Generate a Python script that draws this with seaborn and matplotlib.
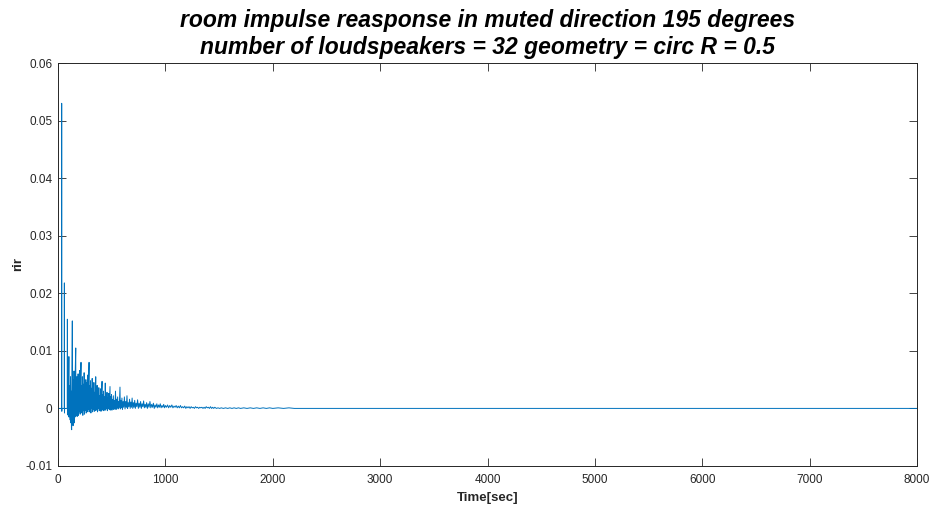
import numpy as np
import pandas as pd
import matplotlib
matplotlib.use("Agg")
import matplotlib.pyplot as plt
import seaborn as sns

# ---- data (sample index, rir value in units of 1e-4) ----
sample_idx = [
    0, 33, 34, 35, 36, 58, 59, 60, 61, 86, 87, 88, 89,
    92, 95, 98, 101, 102, 104, 107, 110, 113, 116, 119, 122, 125, 127, 129, 131, 133, 134,
    137, 140, 143, 146, 149, 152, 155, 158, 161, 165, 166, 169, 172, 175, 178, 181, 184, 187,
    190, 194, 198, 202, 206, 210, 214, 215, 219, 223, 227, 231, 235, 239, 243, 247, 251, 255,
    259, 263, 267, 271, 275, 279, 283, 289, 290, 294, 298, 302, 306, 310, 314, 318, 322, 326,
    330, 334, 338, 342, 346, 351, 352, 356, 360, 364, 368, 372, 376, 380, 384, 388, 392, 396,
    400, 405, 410, 411, 415, 419, 423, 427, 431, 435, 440, 444, 448, 452, 456, 460, 464, 468,
    472, 476, 480, 484, 486, 490, 494, 498, 502, 506, 510, 515, 520, 525, 530, 535, 540, 545,
    550, 555, 560, 565, 570, 577, 580, 585, 590, 595, 600, 606, 612, 618, 624, 630, 636, 642,
    648, 654, 660, 666, 672, 678, 684, 690, 696, 702, 708, 714, 720, 727, 734, 741, 748, 755,
    762, 769, 776, 783, 790, 797, 804, 811, 818, 825, 832, 840, 848, 856, 864, 872, 880, 888,
    896, 904, 912, 920, 928, 936, 944, 952, 960, 968, 976, 984, 992, 1000, 1010, 1020, 1030,
    1040, 1050, 1060, 1070, 1080, 1090, 1100, 1110, 1120, 1130, 1140, 1150, 1160, 1170,
    1180, 1190, 1200, 1210, 1220, 1230, 1240, 1250, 1260, 1270, 1280, 1290, 1300, 1310,
    1320, 1330, 1340, 1350, 1360, 1370, 1380, 1390, 1400, 1410, 1420, 1430, 1440, 1450,
    1460, 1475, 1490, 1505, 1520, 1540, 1560, 1580, 1600, 1620, 1640, 1660, 1680, 1700,
    1730, 1760, 1790, 1820, 1850, 1880, 1910, 1940, 1970, 2000, 2050, 2100, 2150, 2200,
    2300, 8000,
]
rir_e4 = [
    0, 0, 530, -5, 0, 0, 218, -8, 0, 0, 155, -10, 2,
    5, -12, 25, 90, -15, 30, -8, 40, -20, 55, -25, 30, -35, -37, 20, 60, 152, -20,
    45, -30, 50, -18, 65, -25, 40, -15, 70, 105, -12, 48, -10, 55, -14, 38, -8, 60,
    -12, 45, -6, 66, -10, 50, 80, -8, 40, -5, 55, -12, 42, -4, 62, -10, 38, -3,
    50, -8, 45, -6, 58, -2, 35, 80, -6, 40, -4, 48, -8, 35, 0, 52, -6, 30,
    -2, 45, -5, 28, -3, 55, -4, 32, -2, 40, -6, 26, 0, 36, -4, 22, -2, 34,
    -5, 25, 47, -3, 24, 0, 30, -4, 20, -1, 44, -3, 22, 0, 28, -4, 18, 0,
    26, -2, 16, 38, -3, 20, 0, 24, -3, 15, 1, 22, -2, 14, 0, 30, -2, 16,
    1, 20, -1, 12, 2, 37, -1, 14, 1, 18, -2, 12, 2, 20, -1, 12, 2, 22,
    0, 10, 3, 16, 0, 11, 2, 18, 0, 10, 2, 14, 0, 9, 3, 15, 0, 9,
    2, 12, 0, 8, 3, 13, 1, 7, 2, 10, 0, 8, 2, 12, 1, 7, 2, 9,
    0, 6, 2, 8, 1, 6, 2, 8, 1, 5, 2, 7, 1, 5, 2, 6, 1,
    5, 2, 6, 1, 4, 2, 5, 1, 4, 1, 5, 1, 3, 1,
    4, 0, 3, 1, 3, 0, 3, 1, 2, 0, 3, 1, 2, 0,
    2, 1, 2, 0, 2, 0, 3, 1, 2, 0, 3, 0, 2, 0,
    2, 0, 1, 0, 1, 0, 1, 0, 1, 0, 1, 0, 1, 0,
    1, 0, 1, 0, 1, 0, 1, 0, 1, 0, 1, 0, 1, 0,
    0, 0,
]

x_ticks = [0, 1000, 2000, 3000, 4000, 5000, 6000, 7000, 8000]
y_ticks = [-0.01, 0, 0.01, 0.02, 0.03, 0.04, 0.05, 0.06]
y_tick_labels = ["-0.01", "0", "0.01", "0.02", "0.03", "0.04", "0.05", "0.06"]
title_text = ("room impulse reasponse in muted direction 195 degrees\n"
              "number of loudspeakers = 32 geometry = circ R = 0.5")

df = pd.DataFrame({"Time": sample_idx, "rir": np.array(rir_e4) * 1e-4})

sns.set_theme(style="white")
plt.rcParams["font.family"] = ["Liberation Sans", "DejaVu Sans"]

fig = plt.figure(figsize=(9.33, 5.11), dpi=100)
ax = fig.add_axes([0.0622, 0.0881, 0.9207, 0.7886])

sns.lineplot(data=df, x="Time", y="rir", ax=ax, color="#0072BD",
             linewidth=0.7, estimator=None, sort=False)

ax.set_xlim(0, 8000)
ax.set_ylim(-0.01, 0.06)
ax.set_xticks(x_ticks)
ax.set_xticklabels([str(v) for v in x_ticks])
ax.set_yticks(y_ticks)
ax.set_yticklabels(y_tick_labels)

edge = "#262626"
for s in ax.spines.values():
    s.set_visible(True)
    s.set_color(edge)
    s.set_linewidth(0.7)

ax.tick_params(axis="both", which="major", direction="in", length=5.5, width=0.6,
               color=edge, labelcolor=edge, labelsize=8.5,
               top=True, right=True, bottom=True, left=True)
ax.tick_params(axis="x", pad=6)
ax.tick_params(axis="y", pad=4)

ax.set_xlabel("Time[sec]", fontsize=9.5, fontweight="bold", color=edge, labelpad=4)
ax.set_ylabel("rir", fontsize=9.5, fontweight="bold", color=edge, labelpad=1)

fig.text(0.523, 0.934, title_text, ha="center", va="center",
         fontsize=16.5, fontweight="bold", fontstyle="italic",
         family=["Liberation Sans Narrow", "Liberation Sans", "DejaVu Sans"],
         linespacing=1.2, color="black")

ax.grid(False)
fig.savefig("out.png", dpi=100, facecolor="white")
